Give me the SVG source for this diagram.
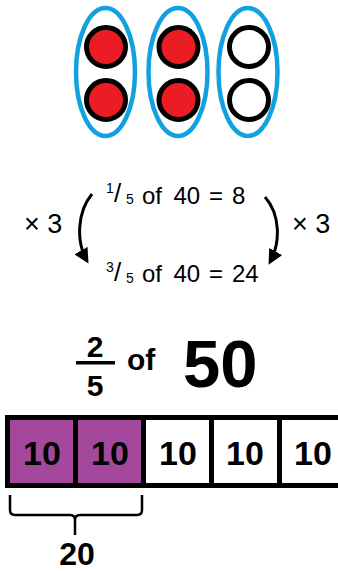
<svg xmlns="http://www.w3.org/2000/svg" width="338" height="571" viewBox="0 0 338 571">
<defs>
<style>
.grp{fill:none;stroke:#11a0e0;stroke-width:4.5}
.dot{stroke:#000;stroke-width:5}
.red{fill:#ec1c24}
.wht{fill:#fff}
.ar{font-family:"Liberation Sans",Arial,sans-serif;fill:#000}
.cm{font-family:"Liberation Sans",Arial,sans-serif;font-weight:bold;fill:#000}
.arrow{fill:none;stroke:#000;stroke-width:3}
.cell{stroke:#000;stroke-width:5}
</style>
<marker id="ah" viewBox="0 0 10 10" refX="8" refY="5" markerWidth="5" markerHeight="5" orient="auto" markerUnits="strokeWidth">
<path d="M0,0 L10,5 L0,10 z" fill="#000"/>
</marker>
</defs>
<rect width="338" height="571" fill="#fff"/>
<g id="counters">
<ellipse class="grp" cx="105.5" cy="72" rx="29.5" ry="64"/>
<ellipse class="grp" cx="178" cy="72" rx="29.5" ry="64"/>
<ellipse class="grp" cx="248" cy="72" rx="29.5" ry="64"/>
<circle class="dot red" cx="106" cy="47" r="19.5"/>
<circle class="dot red" cx="106" cy="100" r="19.5"/>
<circle class="dot red" cx="178.5" cy="47" r="19.5"/>
<circle class="dot red" cx="178.5" cy="100" r="19.5"/>
<circle class="dot wht" cx="249" cy="47" r="19.5"/>
<circle class="dot wht" cx="249" cy="100" r="19.5"/>
</g>
<g id="line1" class="ar">
<text x="106" y="193" font-size="14">1</text>
<text x="114" y="202" font-size="26">/</text>
<text x="126" y="204" font-size="14">5</text>
<text y="203.5" font-size="24"><tspan x="142">of</tspan><tspan x="173.5">40</tspan><tspan x="209">=</tspan><tspan x="232">8</tspan></text>
</g>
<g id="line2" class="ar">
<text x="106" y="272" font-size="14">3</text>
<text x="114" y="281" font-size="26">/</text>
<text x="126" y="283" font-size="14">5</text>
<text y="282" font-size="24"><tspan x="142">of</tspan><tspan x="173.5">40</tspan><tspan x="209">=</tspan><tspan x="232">24</tspan></text>
</g>
<g id="times-left" class="ar"><text x="24" y="233" font-size="27">× 3</text></g>
<g id="times-right" class="ar"><text x="292" y="233" font-size="27">× 3</text></g>
<g id="connectors">
<path class="arrow" d="M92,194 C77,212 76,242 87,261" marker-end="url(#ah)"/>
<path class="arrow" d="M265,197 C280,214 281,242 270,262" marker-end="url(#ah)"/>
</g>
<g id="title" class="cm">
<text x="95" y="357" font-size="30" text-anchor="middle">2</text>
<rect x="76" y="361" width="39" height="3.5" fill="#000"/>
<text x="95" y="396" font-size="30" text-anchor="middle">5</text>
<text x="127" y="370" font-size="30">of</text>
<text x="183" y="387" font-size="67">50</text>
</g>
<g id="bar">
<rect class="cell" x="7.5" y="417.5" width="68" height="68" fill="#a3489c"/>
<rect class="cell" x="75.5" y="417.5" width="68" height="68" fill="#a3489c"/>
<rect class="cell" x="143.5" y="417.5" width="68" height="68" fill="#fff"/>
<rect class="cell" x="211.5" y="417.5" width="68" height="68" fill="#fff"/>
<rect class="cell" x="279.5" y="417.5" width="68" height="68" fill="#fff"/>
<g class="cm" font-size="34" text-anchor="middle">
<text x="42" y="465">10</text>
<text x="110" y="465">10</text>
<text x="178" y="465">10</text>
<text x="245" y="465">10</text>
<text x="313" y="465">10</text>
</g>
</g>
<g id="brace">
<path d="M10,495 L10,510 Q10,515 15,515 L70,515 Q75,515 75,520 L75,535 M75,520 Q75,515 80,515 L137,515 Q142,515 142,510 L142,495" fill="none" stroke="#000" stroke-width="2.5"/>
<text class="cm" x="77" y="565" font-size="32" text-anchor="middle">20</text>
</g>
</svg>
